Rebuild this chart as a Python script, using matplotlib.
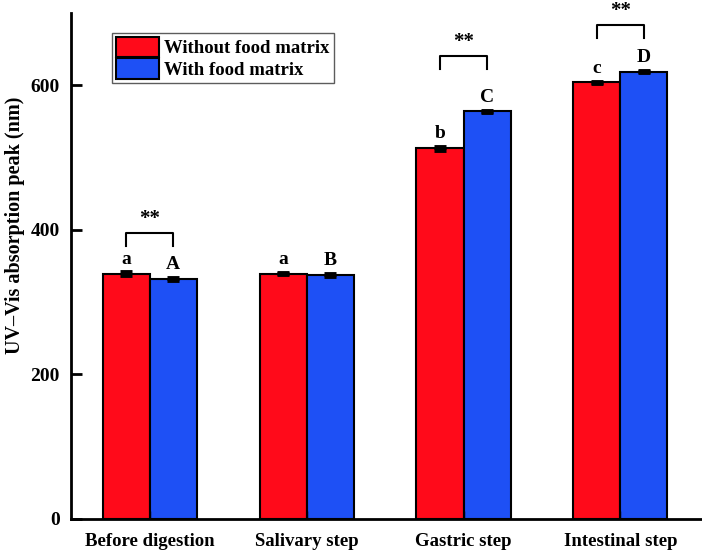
import matplotlib.pyplot as plt
import numpy as np

plt.rcParams['font.family'] = ['Liberation Serif', 'DejaVu Serif']
plt.rcParams['font.weight'] = 'bold'

steps = ['Before digestion', 'Salivary step', 'Gastric step', 'Intestinal step']
without_matrix = [339.5, 339.5, 513, 604]
with_matrix = [332.5, 338, 564, 619]
without_err = [2, 0.5, 2, 0.5]
with_err = [1.5, 1.5, 0.5, 0.5]
without_letters = ['a', 'a', 'b', 'c']
with_letters = ['A', 'B', 'C', 'D']
# brackets for significance (group index, bracket top value)
sig_groups = [0, 2, 3]
sig_tops = [395, 640, 683]

x = np.arange(len(steps))
w = 0.3

fig = plt.figure(figsize=(7.02, 5.5), dpi=100)
ax = fig.add_axes([0.101, 0.0564, 0.899, 0.92])

ax.bar(x - w / 2, without_matrix, w, color='#ff0a1a', edgecolor='black', linewidth=1.5,
       label='Without food matrix')
ax.bar(x + w / 2, with_matrix, w, color='#1e50f5', edgecolor='black', linewidth=1.5,
       label='With food matrix')
ax.errorbar(x - w / 2, without_matrix, yerr=without_err, fmt='none', ecolor='black',
            elinewidth=1.5, capsize=4, capthick=3.5)
ax.errorbar(x + w / 2, with_matrix, yerr=with_err, fmt='none', ecolor='black',
            elinewidth=1.5, capsize=4, capthick=3.5)

for i in range(len(steps)):
    ax.text(x[i] - w / 2, without_matrix[i] + 8, without_letters[i], ha='center', va='bottom',
            fontsize=14, fontweight='bold')
    ax.text(x[i] + w / 2, with_matrix[i] + 8, with_letters[i], ha='center', va='bottom',
            fontsize=14, fontweight='bold')

for g, top in zip(sig_groups, sig_tops):
    x0, x1 = x[g] - w / 2, x[g] + w / 2
    ax.plot([x0, x0, x1, x1], [top - 18, top, top, top - 18], color='black', lw=1.5)
    ax.text((x0 + x1) / 2, top + 6, '**', ha='center', va='bottom', fontsize=15,
            fontweight='bold', clip_on=False)

ax.set_xlim(-0.503, 3.52)
ax.set_ylim(0, 700)
ax.set_yticks([0, 200, 400, 600])
ax.set_xticks(x)
ax.set_xticklabels(steps)
ax.set_ylabel('UV\u2013Vis absorption peak (nm)', fontsize=14.5, fontweight='bold')
ax.yaxis.set_label_coords(-0.072, 0.58)
ax.spines['top'].set_visible(False)
ax.spines['right'].set_visible(False)
ax.spines['left'].set_linewidth(2)
ax.spines['bottom'].set_linewidth(2)
ax.tick_params(axis='y', direction='in', length=8, width=2, labelsize=14, pad=8)
ax.tick_params(axis='x', direction='in', length=6, width=1, labelsize=13.5, pad=10)

leg = ax.legend(loc='upper left', bbox_to_anchor=(0.065, 0.96), fontsize=13.5, frameon=True,
                fancybox=False, edgecolor='#333333', borderpad=0.2, handlelength=2.3,
                handleheight=1.3, labelspacing=0.05, handletextpad=0.3, borderaxespad=0)
leg.get_frame().set_linewidth(1)

fig.savefig('out.png', dpi=100)
